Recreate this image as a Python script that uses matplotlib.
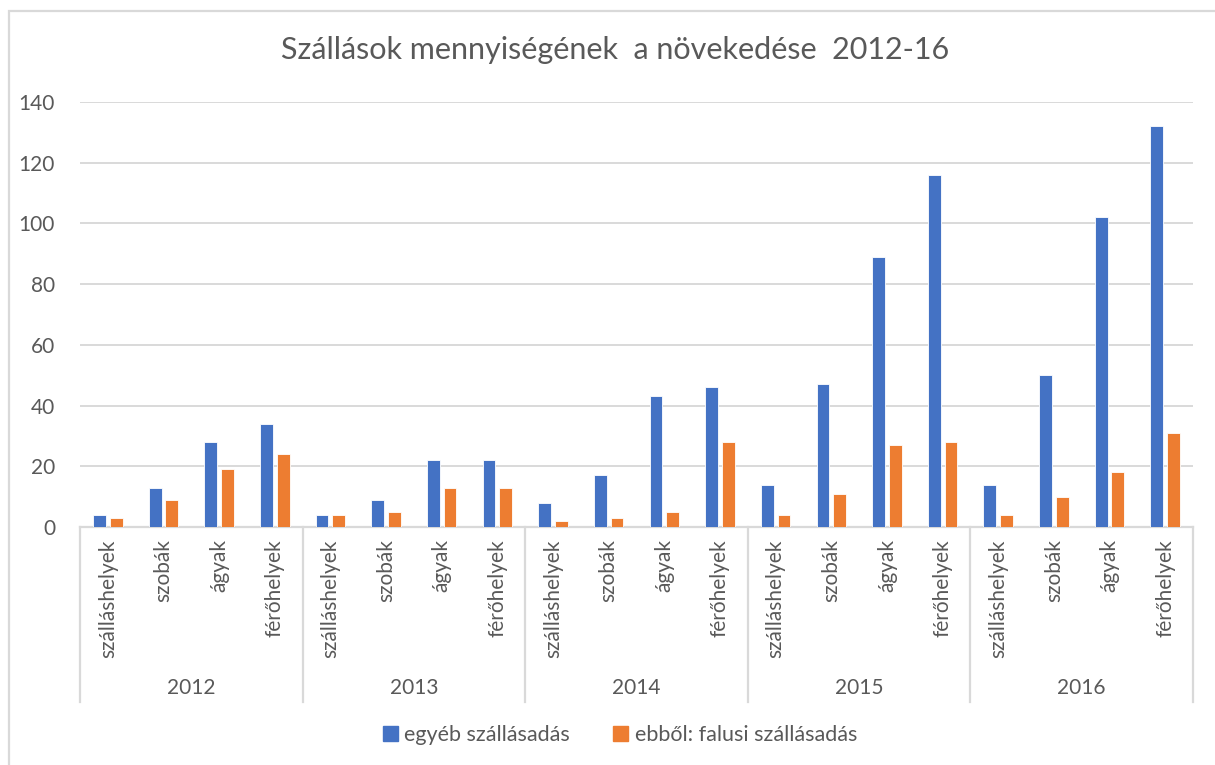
import matplotlib.pyplot as plt
import matplotlib.patches as mpatches
import numpy as np

plt.rcParams['font.family'] = ['Lato', 'DejaVu Sans']

## Adatok
evek = ['2012', '2013', '2014', '2015', '2016']
kategoriak = ['szálláshelyek', 'szobák', 'ágyak', 'férőhelyek']
egyeb = [4, 13, 28, 34,
         4, 9, 22, 22,
         8, 17, 43, 46,
         14, 47, 89, 116,
         14, 50, 102, 132]
falusi = [3, 9, 19, 24,
          4, 5, 13, 13,
          2, 3, 5, 28,
          4, 11, 27, 28,
          4, 10, 18, 31]
yticks = [0, 20, 40, 60, 80, 100, 120, 140]

szurke = '#595959'
racs = '#D9D9D9'
kek = '#4472C4'
narancs = '#ED7D31'

fig = plt.figure(figsize=(12.15, 7.65), dpi=100)
ax = fig.add_axes([80/1215, 1-527/765, 1113/1215, 425/765])

x = np.arange(len(egyeb))
w = 0.23
ax.bar(x - 0.15, egyeb, w, color=kek, edgecolor='white', linewidth=0.6, zorder=3)
ax.bar(x + 0.15, falusi, w, color=narancs, edgecolor='white', linewidth=0.6, zorder=3)

ax.set_xlim(-0.5, len(egyeb) - 0.5)
ax.set_ylim(0, 140)
ax.set_yticks(yticks)
ax.yaxis.grid(True, color=racs, linewidth=1.4, zorder=0)
ax.tick_params(axis='y', length=0, pad=18, labelsize=15, labelcolor=szurke)

ax.set_xticks(x)
ax.set_xticklabels(kategoriak * len(evek), rotation=90, va='top', ha='center')
ax.tick_params(axis='x', length=0, pad=9, labelsize=15, labelcolor=szurke)

for s in ['top', 'right', 'left']:
    ax.spines[s].set_visible(False)
ax.spines['bottom'].set_color(racs)
ax.spines['bottom'].set_linewidth(1.6)

# evek es elvalaszto vonalak
tr = ax.get_xaxis_transform()
n = len(kategoriak)
for i, ev in enumerate(evek):
    ax.text(i*n + (n-1)/2, -0.378, ev, transform=tr, ha='center', va='center',
            fontsize=15, color=szurke)
for i in range(len(evek) + 1):
    ax.plot([i*n - 0.5, i*n - 0.5], [0, -0.412], transform=tr, color=racs,
            linewidth=1.6, clip_on=False)

fig.suptitle('Szállások mennyiségének  a növekedése  2012-16', x=615/1215,
             y=1-50/765, va='center', fontsize=22, color=szurke)

# jelmagyarazat
h1 = mpatches.Patch(color=kek, label='egyéb szállásadás')
h2 = mpatches.Patch(color=narancs, label='ebből: falusi szállásadás')
fig.legend(handles=[h1, h2], loc='center', bbox_to_anchor=(620/1215, 1-735/765),
           ncol=2, frameon=False, fontsize=15.5, labelcolor=szurke,
           handlelength=0.7, handleheight=0.7, handletextpad=0.3, columnspacing=2.0)

# keret
fig.patches.append(mpatches.Rectangle((9/1215, -0.05), 1.1, 1-11/765 + 0.05,
                                      transform=fig.transFigure, fill=False,
                                      edgecolor=racs, linewidth=1.6))

plt.savefig('out.png')
